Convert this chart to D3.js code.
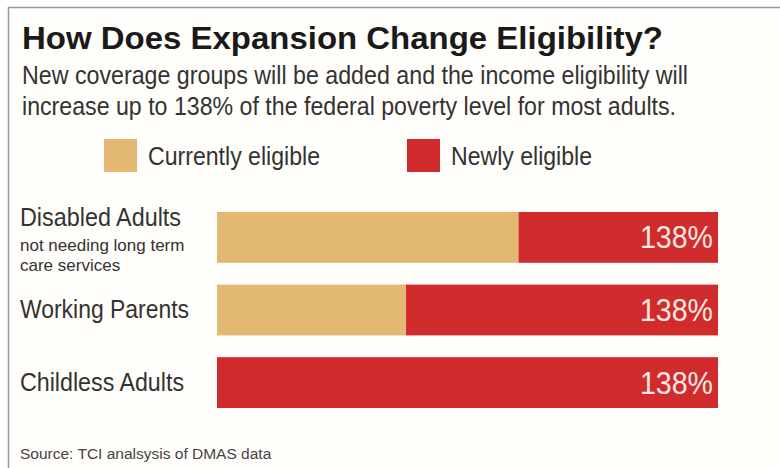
<!DOCTYPE html>
<html>
<head>
<meta charset="utf-8">
<script src="https://cdn.jsdelivr.net/npm/d3@7"></script>
<style>
  body { margin: 0; background: #ffffff; }
  text { fill: #333; }
  .narrow { font-family: "Liberation Sans Narrow", "Arial Narrow", "Liberation Sans", sans-serif; }
</style>
</head>
<body>
<div class="boundary"></div>
<script>
// data
var categories = ["Disabled Adults", "Working Parents", "Childless Adults"];
var subLabels = [["not needing long term", "care services"], [], []];
var currentlyEligible = [83, 52, 0];
var newlyEligibleUpTo = [138, 138, 138];
var seriesNames = ["Currently eligible", "Newly eligible"];

var width = 780, height = 468;
var svg = d3.select(".boundary").append("svg")
            .attr("width", width).attr("height", height);

// panel + frame
svg.append("rect").attr("x", 8).attr("y", 7).attr("width", 772).attr("height", 461)
   .attr("fill", "#fffefa");
svg.append("path").attr("d", "M8.5,468 V7.5 H780")
   .attr("fill", "none").attr("stroke", "#8d9aad").attr("stroke-width", 1.5);

var colors = d3.scaleOrdinal().domain(seriesNames).range(["#e2b873", "#d02c2d"]);

// fit a text to the width measured on the original
function fit(sel, w){ sel.attr("textLength", w).attr("lengthAdjust", "spacingAndGlyphs"); }

// title + subtitle
svg.append("text").attr("x", 22).attr("y", 49)
   .style("font-family", "'Liberation Sans', Arial, sans-serif")
   .style("font-weight", "bold").style("font-size", "30.5px").style("fill", "#1a1a1a")
   .text("How Does Expansion Change Eligibility?").call(fit, 641);
var subtitle = ["New coverage groups will be added and the income eligibility will",
                "increase up to 138% of the federal poverty level for most adults."];
var subW = [666, 654];
svg.selectAll(".sub").data(subtitle).enter().append("text").attr("class", "sub narrow")
   .attr("x", 22).attr("y", function(d, i){ return 84 + i * 31; })
   .style("font-size", "25.5px")
   .attr("textLength", function(d, i){ return subW[i]; }).attr("lengthAdjust", "spacingAndGlyphs")
   .text(function(d){ return d; });

// legend
var legendX = [104, 407];
var legendW = [172, 141];
var legend = svg.selectAll(".legend").data(seriesNames).enter().append("g")
   .attr("class", "legend")
   .attr("transform", function(d, i){ return "translate(" + legendX[i] + ",139)"; });
legend.append("rect").attr("width", 33).attr("height", 33).attr("fill", function(d){ return colors(d); });
legend.append("text").attr("class", "narrow").attr("x", 44).attr("y", 26)
   .style("font-size", "25px")
   .attr("textLength", function(d, i){ return legendW[i]; }).attr("lengthAdjust", "spacingAndGlyphs")
   .text(function(d){ return d; });

// scales
var x = d3.scaleLinear().domain([0, 138]).range([217, 718]);
var y = d3.scaleBand().domain(categories).range([212, 408]).paddingInner(0.3).paddingOuter(0);

var labelW = [161, 169, 164];
var rows = categories.map(function(c, i){
  return { cat: c, cur: currentlyEligible[i], top: newlyEligibleUpTo[i], sub: subLabels[i], w: labelW[i] };
});

var row = svg.selectAll(".row").data(rows).enter().append("g").attr("class", "row");
row.append("rect")
   .attr("x", function(d){ return x(d.cur); })
   .attr("y", function(d){ return y(d.cat); })
   .attr("width", function(d){ return x(d.top) - x(d.cur); })
   .attr("height", y.bandwidth())
   .attr("fill", colors("Newly eligible"));
row.filter(function(d){ return d.cur > 0; }).append("rect")
   .attr("x", x(0))
   .attr("y", function(d){ return y(d.cat); })
   .attr("width", function(d){ return x(d.cur) - x(0); })
   .attr("height", y.bandwidth())
   .attr("fill", colors("Currently eligible"));
row.append("text").attr("class", "narrow")
   .attr("x", function(d){ return x(d.top) - 5; })
   .attr("y", function(d){ return y(d.cat) + y.bandwidth() / 2 + 11; })
   .attr("text-anchor", "end")
   .style("font-size", "31px").style("fill", "#fbe9e4")
   .attr("textLength", 73).attr("lengthAdjust", "spacingAndGlyphs")
   .text(function(d){ return d.top + "%"; });

// category labels
row.append("text").attr("class", "narrow")
   .attr("x", 20)
   .attr("y", function(d){ return d.sub.length ? y(d.cat) + 14 : y(d.cat) + y.bandwidth() / 2 + 8; })
   .style("font-size", "25px")
   .attr("textLength", function(d){ return d.w; }).attr("lengthAdjust", "spacingAndGlyphs")
   .text(function(d){ return d.cat; });
row.each(function(d){
  d3.select(this).selectAll(".subl").data(d.sub).enter().append("text").attr("class", "subl narrow")
    .attr("x", 20).attr("y", function(s, i){ return y(d.cat) + 39 + i * 20; })
    .style("font-size", "17px")
    .text(function(s){ return s; });
});

// source
svg.append("text").attr("class", "narrow").attr("x", 20).attr("y", 459)
   .style("font-size", "15.5px").style("fill", "#444")
   .text("Source: TCI analsysis of DMAS data");
</script>
</body>
</html>
